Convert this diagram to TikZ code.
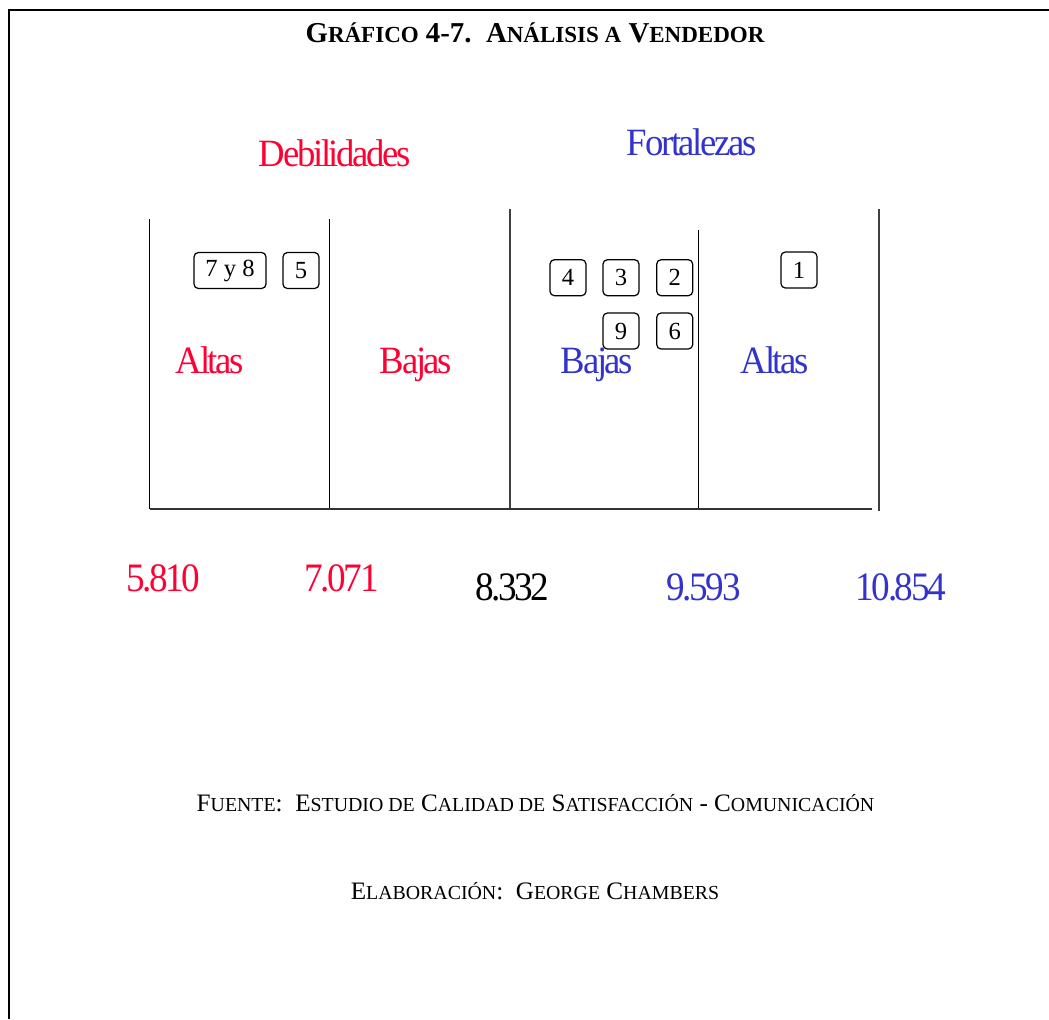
\documentclass[tikz,border=0pt]{standalone}
\usepackage{fontspec}
\setmainfont{Liberation Serif}
\newfontfamily\rotfont{Liberation Serif}[FakeStretch=0.95,LetterSpace=-6]
\newfontfamily\numfont{Liberation Serif}[FakeStretch=0.92,LetterSpace=-6]
\definecolor{debil}{RGB}{255,0,51}
\definecolor{fuerte}{RGB}{51,51,204}
\newcommand{\tsc}[1]{{\fontsize{13.1}{15}\selectfont #1}}
\newcommand{\fsc}[1]{{\fontsize{11.3}{13}\selectfont #1}}
\begin{document}
\begin{tikzpicture}[x=0.02cm,y=-0.02cm,
  caja/.style={draw,rounded corners=2.5pt,line width=0.7pt,minimum width=0.72cm,minimum height=0.72cm,inner sep=0pt,font=\fontsize{14}{16}\selectfont},
  rotulo/.style={anchor=base,font=\rotfont\fontsize{22}{26}\selectfont},
  cifra/.style={anchor=base,font=\numfont\fontsize{23}{27}\selectfont},
  pie/.style={anchor=base,font=\fontsize{14.3}{16}\selectfont}]
\useasboundingbox (0,0) rectangle (1049,1019);
\draw[line width=1.2pt] (9,1019)--(9,10)--(1049,10);
\node[anchor=base,font=\bfseries\fontsize{16.4}{19}\selectfont] (titulo) at (535,42) {G\tsc{RÁFICO} 4-7.\ \ A\tsc{NÁLISIS A} V\tsc{ENDEDOR}};
% cabeceras
\node[rotulo,debil] (debilidades) at (335,166.7) {Debilidades};
\node[rotulo,fuerte] (fortalezas) at (692,155.7) {Fortalezas};
% columnas
\draw[line width=0.6pt] (149.5,219)--(149.5,509) (329.5,219)--(329.5,509) (698.5,230)--(698.5,509);
\draw[line width=0.7pt,black!75] (510,209)--(510,509) (879,209)--(879,511);
\draw[line width=0.7pt,black!80] (149.5,509)--(872,509);
\node[rotulo,debil] (altasD) at (210,373) {Altas};
\node[rotulo,debil] (bajasD) at (416,373) {Bajas};
\node[rotulo,fuerte] (bajasF) at (597,373) {Bajas};
\node[rotulo,fuerte] (altasF) at (775,373) {Altas};
% atributos
\node[caja,minimum width=1.44cm] (a78) at (230,270.5) {7 y 8};
\node[caja] (a5) at (301,270.5) {5};
\node[caja] (a4) at (568,277.7) {4};
\node[caja] (a3) at (621,277.7) {3};
\node[caja] (a2) at (674.7,277.7) {2};
\node[caja] (a9) at (621,331) {9};
\node[caja] (a6) at (674.7,331) {6};
\node[caja] (a1) at (799,270) {1};
% escala
\node[cifra,debil] (v1) at (163,591.7) {5.810};
\node[cifra,debil] (v2) at (341.7,591.7) {7.071};
\node[cifra] (v3) at (512.5,600.7) {8.332};
\node[cifra,fuerte] (v4) at (703.7,600.7) {9.593};
\node[cifra,fuerte] (v5) at (900.8,600.7) {10.854};
% pie
\node[pie] (fuente) at (535.5,811) {F\fsc{UENTE}:\ \ E\fsc{STUDIO DE} C\fsc{ALIDAD DE} S\fsc{ATISFACCIÓN} - C\fsc{OMUNICACIÓN}};
\node[pie] (elab) at (535,899) {E\fsc{LABORACIÓN}:\ \ G\fsc{EORGE} C\fsc{HAMBERS}};
\end{tikzpicture}
\end{document}
